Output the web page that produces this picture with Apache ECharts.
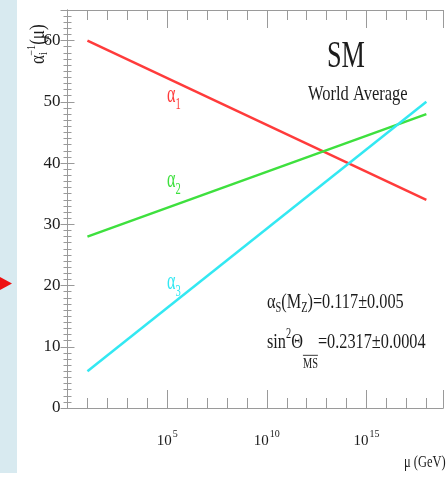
<!DOCTYPE html>
<html>
<head>
<meta charset="utf-8">
<script src="https://cdn.jsdelivr.net/npm/echarts@6/dist/echarts.min.js"></script>
<style>
  html, body { margin: 0; padding: 0; background: #fff; }
  #chart { width: 447px; height: 478px; }
</style>
</head>
<body>
<div id="chart"></div>
<script>
// log10(mu / GeV) at the two ends of every running line
const logMu = [1, 18];
// inverse couplings alpha_i^-1 at those points
const alpha1Inv = [60, 34];
const alpha2Inv = [28, 48];
const alpha3Inv = [6, 50];
// decades that carry a "10^n" label
const xLabelDecades = [5, 10, 15];

const FONT = '"Liberation Serif", "DejaVu Serif", serif';
const INK = '#1c1c1c';
const FRAME = '#9a9a9a';

const measureCtx = document.createElement('canvas').getContext('2d');
function textWidth(t, size) {
  measureCtx.font = size + 'px ' + FONT;
  return measureCtx.measureText(t).width;
}

// lays out a row of text pieces (sub/superscripts via dy), optionally squeezed / rotated
function seq(x, y, parts, color, sx, rot) {
  let cx = 0;
  const children = [];
  parts.forEach((p) => {
    const px = cx + (p.dx || 0);
    const w = textWidth(p.t, p.s);
    children.push({
      type: 'text',
      x: px,
      y: p.dy || 0,
      style: {
        text: p.t,
        fontSize: p.s,
        fontFamily: FONT,
        fill: color,
        verticalAlign: 'middle',
        textVerticalAlign: 'middle',
      },
    });
    if (p.over) {
      const ly = (p.dy || 0) - p.s * 0.62;
      children.push({
        type: 'line',
        shape: { x1: px, y1: ly, x2: px + w, y2: ly },
        style: { stroke: color, lineWidth: 1 },
      });
    }
    cx = px + w + (p.after || 0);
  });
  return { type: 'group', x: x, y: y, scaleX: sx || 1, rotation: rot || 0, children };
}

function toPoints(ys) {
  return logMu.map((v, i) => [v, ys[i]]);
}

const X_MIN = 0;
const X_MAX = 18.85;

function xAxisLayer(position, min, max, interval, len, withLine, withLabel) {
  return {
    type: 'value',
    position: position,
    min: min,
    max: max,
    interval: interval,
    axisLine: { show: withLine, lineStyle: { color: FRAME, width: 1 } },
    axisTick: { show: true, inside: true, length: len, lineStyle: { color: FRAME, width: 1 } },
    splitLine: { show: false },
    axisLabel: withLabel
      ? {
          show: true,
          margin: 21,
          formatter: (v) =>
            xLabelDecades.indexOf(v) >= 0 ? '{b|10}{s|' + v + '}' : '',
          rich: {
            b: { fontFamily: FONT, fontSize: 15, color: INK },
            s: { fontFamily: FONT, fontSize: 10, color: INK, padding: [0, 0, 15, 1] },
          },
        }
      : { show: false },
  };
}

function yAxisLayer(position, withLabel) {
  return {
    type: 'value',
    position: position,
    min: 0,
    max: 65,
    interval: 10,
    axisLine: { show: true, lineStyle: { color: FRAME, width: 1 } },
    axisTick: { show: true, inside: true, length: 7, lineStyle: { color: FRAME } },
    minorTick: { show: true, splitNumber: 10, length: 4, lineStyle: { color: FRAME } },
    splitLine: { show: false },
    axisLabel: withLabel
      ? { show: true, margin: 7, fontFamily: FONT, fontSize: 17, color: INK,
          formatter: (v) => (v % 10 === 0 ? String(v) : '') }
      : { show: false },
  };
}

const chart = echarts.init(document.getElementById('chart'), null, { renderer: 'canvas' });

chart.setOption({
  animation: false,
  backgroundColor: '#fff',
  grid: { left: 67.5, right: 3.7, top: 10, bottom: 70 },
  xAxis: [
    xAxisLayer('bottom', X_MIN, X_MAX, 1, 10, true, true),
    xAxisLayer('bottom', X_MIN, X_MAX, 5, 18, false, false),
    xAxisLayer('bottom', X_MIN + 0.3, X_MAX + 0.3, 1, 5, false, false),
    xAxisLayer('top', X_MIN, X_MAX, 1, 10, true, false),
    xAxisLayer('top', X_MIN, X_MAX, 5, 18, false, false),
    xAxisLayer('top', X_MIN + 0.3, X_MAX + 0.3, 1, 5, false, false),
  ],
  yAxis: [yAxisLayer('left', true), yAxisLayer('right', false)],
  series: [
    { name: 'alpha1', type: 'line', data: toPoints(alpha1Inv), symbol: 'none',
      lineStyle: { color: '#ff3b3b', width: 2.5 } },
    { name: 'alpha2', type: 'line', data: toPoints(alpha2Inv), symbol: 'none',
      lineStyle: { color: '#3ee03e', width: 2.5 } },
    { name: 'alpha3', type: 'line', data: toPoints(alpha3Inv), symbol: 'none',
      lineStyle: { color: '#33e8f2', width: 2.5 } },
  ],
  graphic: [
    { type: 'rect', shape: { x: 0, y: 0, width: 17, height: 473 }, style: { fill: '#d8eaf0' }, z: -1 },
    { type: 'polygon', shape: { points: [[0, 277], [12, 283.5], [0, 290]] }, style: { fill: '#ee1111' } },
    // y-axis title, reading upwards (runs off the top like the original)
    seq(39, 64, [
      { t: 'α', s: 20 },
      { t: 'i', s: 12, dy: 5 },
      { t: '−1', s: 12, dy: -7, dx: -4 },
      { t: '(μ)', s: 20 },
    ], INK, 0.85, Math.PI / 2),
    seq(404, 463, [{ t: 'μ', s: 16 }, { t: ' (GeV)', s: 16 }], INK, 0.78),
    // coupling labels
    seq(167, 95, [{ t: 'α', s: 26 }, { t: '1', s: 17, dy: 10 }], '#ff3b3b', 0.62),
    seq(167, 180, [{ t: 'α', s: 26 }, { t: '2', s: 17, dy: 10 }], '#3ee03e', 0.62),
    seq(167, 282, [{ t: 'α', s: 26 }, { t: '3', s: 17, dy: 10 }], '#33e8f2', 0.62),
    // legend block
    seq(327, 57, [{ t: 'SM', s: 38 }], INK, 0.69),
    seq(308, 94, [{ t: 'World Average', s: 22 }], INK, 0.75),
    seq(267, 302, [
      { t: 'α', s: 22 },
      { t: 'S', s: 14, dy: 6 },
      { t: '(M', s: 22 },
      { t: 'Z', s: 14, dy: 6 },
      { t: ')=0.117±0.005', s: 22 },
    ], INK, 0.74),
    seq(267, 342, [
      { t: 'sin', s: 22 },
      { t: '2', s: 14, dy: -8 },
      { t: 'Θ', s: 22 },
      { t: 'MS', s: 14, dy: 22, over: true },
      { t: '=0.2317±0.0004', s: 22 },
    ], INK, 0.74),
  ],
});
</script>
</body>
</html>
